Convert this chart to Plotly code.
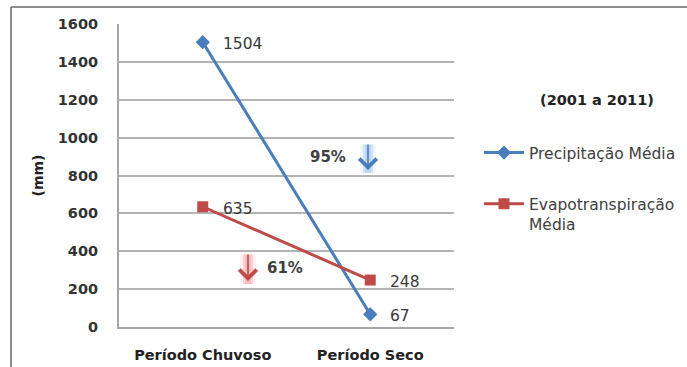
import plotly.graph_objects as go

# Periods and mean values (mm), 2001 to 2011
periods = ["Período Chuvoso", "Período Seco"]
precip = [1504, 67]
evapo = [635, 248]
y_ticks = [0, 200, 400, 600, 800, 1000, 1200, 1400, 1600]

BLUE = "#4a7ebb"
RED = "#be4b48"
TXT = "#404040"
FONT = "DejaVu Sans"

W, H = 687, 367
L, R, T, B = 119, 233, 24, 40
pw, ph = W - L - R, H - T - B


def px(x):
    return (x - L) / pw


def py(y):
    return (H - B - y) / ph


fig = go.Figure()
fig.add_trace(go.Scatter(
    x=periods, y=precip, mode="lines+markers", name="Precipitação Média",
    line=dict(color=BLUE, width=3),
    marker=dict(symbol="diamond", size=11, color=BLUE),
    legendgroup="a",
))
fig.add_trace(go.Scatter(
    x=periods, y=evapo, mode="lines+markers", name="Evapotranspiração<br>Média",
    line=dict(color=RED, width=3),
    marker=dict(symbol="square", size=11, color=RED),
    legendgroup="b",
))

annotations = []
# value labels beside each point
for series in (precip, evapo):
    for cat, v in zip(periods, series):
        annotations.append(dict(
            x=cat, y=v, text=str(v), showarrow=False, xanchor="left",
            yanchor="middle", xshift=18, yshift=-2,
            font=dict(family=FONT, size=15.5, color="#383838"),
        ))

# decline arrows with a soft halo
for xa, top, tip, col, glow in ((368, 143, 170, BLUE, "rgba(110,165,230,{a})"),
                                (248, 253, 281, RED, "rgba(235,110,115,{a})")):
    for w, a in ((15, 0.12), (10, 0.18), (6, 0.22)):
        annotations.append(dict(
            x=px(xa), y=py(tip + 3), xref="paper", yref="paper",
            ax=0, ay=-(tip + 3 - top), showarrow=True, arrowhead=0,
            arrowwidth=w, arrowcolor=glow.format(a=a), text="",
        ))
    annotations.append(dict(
        x=px(xa), y=py(tip), xref="paper", yref="paper", ax=0, ay=-(tip - top),
        showarrow=True, arrowhead=4, arrowwidth=1.6, arrowsize=2.1,
        arrowcolor=col, text="",
    ))

annotations += [
    dict(x=px(328), y=py(157), xref="paper", yref="paper", text="<b>95%</b>",
         xanchor="center", yanchor="middle", showarrow=False,
         font=dict(family=FONT, size=15, color=TXT)),
    dict(x=px(285), y=py(268), xref="paper", yref="paper", text="<b>61%</b>",
         xanchor="center", yanchor="middle", showarrow=False,
         font=dict(family=FONT, size=15, color=TXT)),
    dict(x=px(597), y=py(100), xref="paper", yref="paper", text="<b>(2001 a 2011)</b>",
         xanchor="center", yanchor="middle", showarrow=False,
         font=dict(family=FONT, size=14.5, color="#222222")),
]

# outer frame (top and left edges)
shapes = [
    dict(type="line", xref="paper", yref="paper", x0=px(11), x1=px(W + 5),
         y0=py(7), y1=py(7), line=dict(color="#8c8c8c", width=2)),
    dict(type="line", xref="paper", yref="paper", x0=px(11), x1=px(11),
         y0=py(7), y1=py(H + 5), line=dict(color="#8c8c8c", width=2)),
]

fig.update_layout(
    width=W, height=H,
    margin=dict(l=L, r=R, t=T, b=B, autoexpand=False),
    paper_bgcolor="white", plot_bgcolor="white",
    font=dict(family=FONT, size=13, color=TXT),
    annotations=annotations, shapes=shapes,
    showlegend=True,
    legend=dict(
        x=px(479), y=py(136), xanchor="left", yanchor="top",
        font=dict(family=FONT, size=15.5, color=TXT),
        valign="top", tracegroupgap=28, itemwidth=40,
        bgcolor="rgba(0,0,0,0)",
    ),
    xaxis=dict(
        type="category", showgrid=False, showline=True, linecolor="#a6a6a6",
        linewidth=2, ticks="outside", ticklen=14, tickcolor="rgba(0,0,0,0)",
        tickfont=dict(family=FONT, size=14.5, color="#222222"),
        ticktext=[f"<b>{p}</b>" for p in periods], tickvals=periods,
        range=[-0.5, 1.5], fixedrange=True,
    ),
    yaxis=dict(
        range=[0, 1600], tickvals=y_ticks, showgrid=True, gridcolor="#b3b3b3",
        gridwidth=1.5, showline=True, linecolor="#a6a6a6", linewidth=2,
        zeroline=False, ticks="outside", ticklen=16, tickcolor="rgba(0,0,0,0)",
        tickfont=dict(family=FONT, size=14.5, color="#333333"),
        ticktext=[f"<b>{v}</b>" for v in y_ticks],
        title=dict(text="<b>(mm)</b>", standoff=11,
                   font=dict(family=FONT, size=14, color="#222222")),
    ),
)

fig.write_html("out.html")
